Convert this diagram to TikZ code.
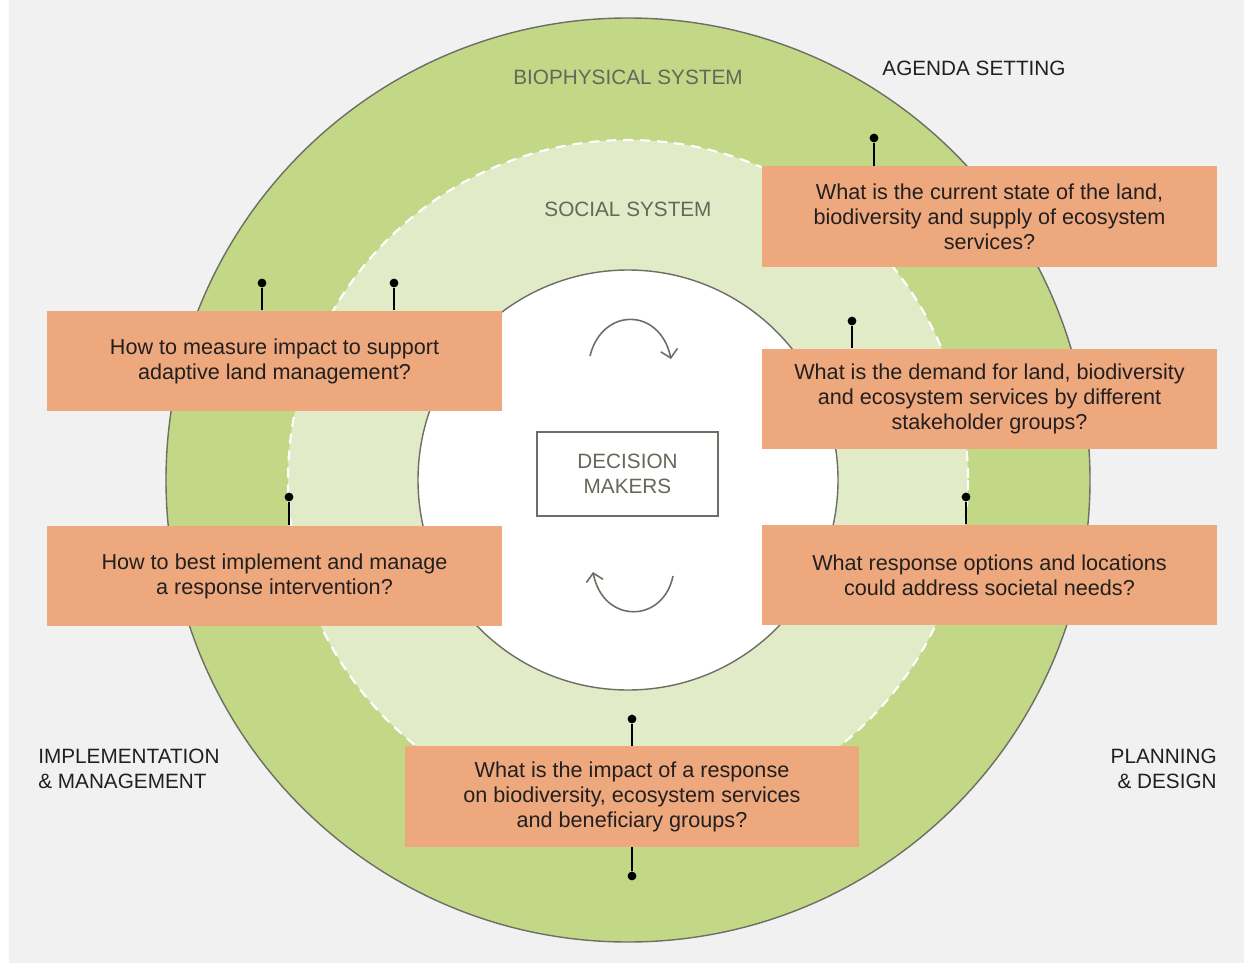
\documentclass[tikz,border=0pt]{standalone}
\usepackage{fontspec}
\setmainfont{Liberation Sans}
\usetikzlibrary{arrows.meta,positioning,calc}
\definecolor{bioG}{HTML}{C2D887}
\definecolor{socG}{HTML}{E2EBC8}
\definecolor{quesO}{HTML}{EDA87D}
\definecolor{fondC}{HTML}{F1F1F1}
\definecolor{traitC}{HTML}{6E6E64}
\definecolor{labC}{HTML}{66665A}
\definecolor{texteC}{HTML}{231F20}
\tikzset{
  ques/.style={rectangle, fill=quesO, align=center, text=texteC, inner sep=0pt,
               font=\fontsize{12.3}{14.2}\selectfont, minimum width=9.1cm, minimum height=2.02cm},
  syslab/.style={font=\fontsize{11.8}{14.2}\selectfont, text=labC},
  phase/.style={font=\fontsize{11.8}{14.2}\selectfont, text=texteC, inner sep=0pt},
  pinhead/.style={circle, fill=black, inner sep=0pt, minimum size=5pt},
  pin/.style={line width=1.3pt, draw=black},
  cyc/.style={-{Straight Barb[length=1.6mm, width=3.4mm]}, line width=0.9pt, draw=traitC},
}

\begin{document}
\begin{tikzpicture}[x=0.02cm, y=-0.02cm]
    % Fond
    \useasboundingbox (0,0) rectangle (1244,963);
    \fill[white] (0,0) rectangle (1244,963);
    \fill[fondC] (9,0) rectangle (1244,963);
    % Cercles
    \filldraw[fill=bioG, draw=traitC, line width=0.8pt] (628,480) circle (462);
    \fill[socG] (628,480) circle (340);
    \draw[white, line width=1.2pt, dash pattern=on 0.2cm off 0.14cm] (628,480) circle (340);
    \filldraw[fill=white, draw=traitC, line width=0.8pt] (628,480) circle (210);
    % Systemes
    \node[syslab] (bio) at (628,77) {BIOPHYSICAL SYSTEM};
    \node[syslab] (soc) at (628,209) {SOCIAL SYSTEM};
    \node[syslab, draw=traitC, line width=1pt, minimum width=3.62cm, minimum height=1.68cm,
          align=center, inner sep=0pt] (dm) at (627.5,474) {DECISION\\MAKERS};
    % Cycle
    \draw[cyc] (590,356) .. controls (602,307) and (660,307) .. (671,359);
    \draw[cyc] (673,576) .. controls (663,624) and (603,624) .. (593,572);
    % Phases
    \node[phase] (agenda) at (974,68) {AGENDA SETTING};
    \node[phase, align=left, anchor=west] (impl) at (38,769) {IMPLEMENTATION\\\& MANAGEMENT};
    \node[phase, align=right, anchor=east] (plan) at (1217,769) {PLANNING\\\& DESIGN};
    % Questions
    \node[ques] (q1) at (989.5,216.5)
      {What is the current state of the land,\\biodiversity and supply of ecosystem\\services?};
    \node[ques] (q2) at (989.5,399)
      {What is the demand for land, biodiversity\\and ecosystem services by different\\stakeholder groups?};
    \node[ques] (q3) at (989.5,575)
      {What response options and locations\\could address societal needs?};
    \node[ques] (q4) at (632,796.5)
      {What is the impact of a response\\on biodiversity, ecosystem services\\and beneficiary groups?};
    \node[ques] (q5) at (274.5,576)
      {How to best implement and manage\\a response intervention?};
    \node[ques] (q6) at (274.5,361)
      {How to measure impact to support\\adaptive land management?};
    % Epingles
    \node[pinhead] (p1) at (874,138) {};
    \node[pinhead] (p2) at (852,321) {};
    \node[pinhead] (p3) at (966,497) {};
    \node[pinhead] (p4a) at (632,719) {};
    \node[pinhead] (p4b) at (632,876) {};
    \node[pinhead] (p5) at (289,497) {};
    \node[pinhead] (p6a) at (262,283) {};
    \node[pinhead] (p6b) at (394,283) {};
    \draw[pin] (q1.north -| p1) -- (p1);
    \draw[pin] (q2.north -| p2) -- (p2);
    \draw[pin] (q3.north -| p3) -- (p3);
    \draw[pin] (q4.north -| p4a) -- (p4a);
    \draw[pin] (q4.south -| p4b) -- (p4b);
    \draw[pin] (q5.north -| p5) -- (p5);
    \draw[pin] (q6.north -| p6a) -- (p6a);
    \draw[pin] (q6.north -| p6b) -- (p6b);
\end{tikzpicture}
\end{document}
